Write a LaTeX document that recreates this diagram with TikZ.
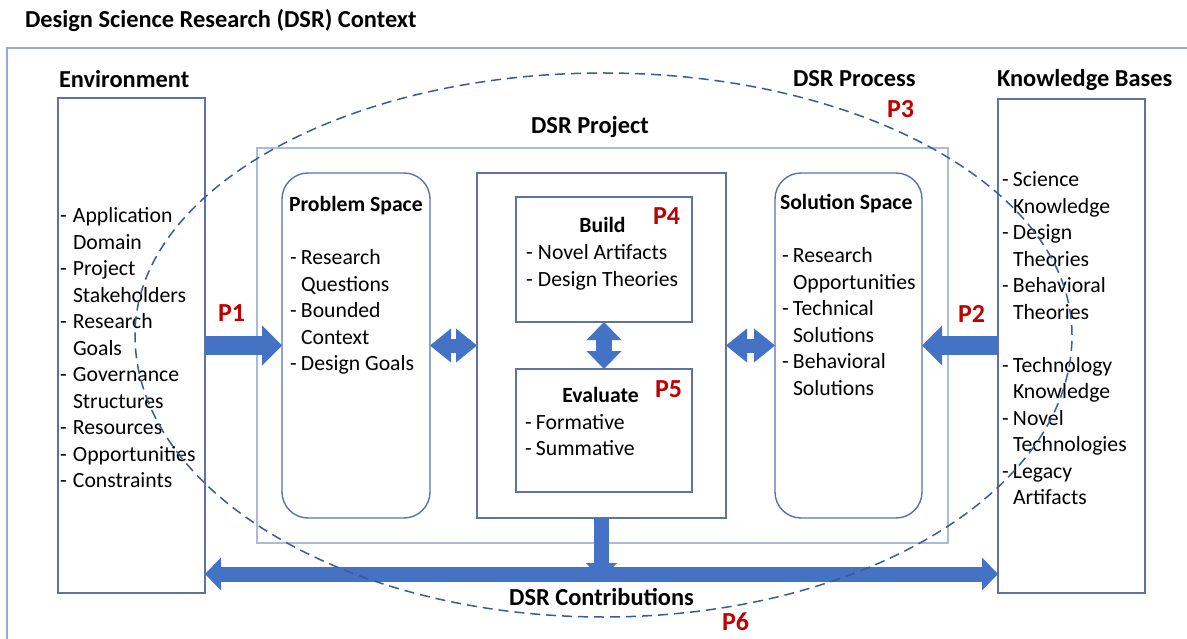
\documentclass[tikz,border=0pt]{standalone}
\usepackage{fontspec}
\setmainfont{Carlito}
\usetikzlibrary{arrows.meta,calc}
\definecolor{ctxline}{RGB}{150,170,205}
\definecolor{boxline}{RGB}{95,115,160}
\definecolor{projline}{RGB}{170,186,215}
\definecolor{roundline}{RGB}{85,115,175}
\definecolor{arrowblue}{RGB}{68,114,196}
\definecolor{dashblue}{RGB}{55,90,160}
\definecolor{pred}{RGB}{192,0,0}
\newcommand\bodyfont{\fontsize{21.7}{26.5}\selectfont}
\newcommand\headfont{\fontsize{24.4}{29}\selectfont\bfseries}
\newcommand\subfont{\fontsize{21.7}{26.5}\selectfont\bfseries}
\newcommand\pfont{\fontsize{26}{30}\selectfont\bfseries}
\newcommand\dashitem[2][11pt]{\makebox[#1][l]{-}#2}
\newcommand\contline[2][11pt]{\hspace*{#1}#2}
\newcommand\itemtab[1]{\begin{tabular}[t]{@{}l@{}}#1\end{tabular}}
\begin{document}
\begin{tikzpicture}[x=1pt,y=-1pt,
  rbox/.style={draw=boxline,line width=1.4pt,inner sep=0pt,outer sep=0pt,anchor=north west},
  ctxbox/.style={draw=ctxline,line width=2pt,inner sep=0pt,outer sep=0pt,anchor=north west},
  projbox/.style={draw=projline,line width=2pt,inner sep=0pt,outer sep=0pt,anchor=north west},
  spacebox/.style={draw=roundline,line width=1.4pt,rounded corners=26pt,inner sep=0pt,outer sep=0pt,anchor=north west},
  txt/.style={inner sep=0pt,outer sep=0pt,anchor=base west},
  head/.style={txt,font=\headfont},
  sub/.style={txt,font=\subfont},
  body/.style={txt,font=\bodyfont},
  plabel/.style={txt,font=\pfont,text=pred},
  blk/.style={arrowblue},
]
\useasboundingbox (0,0) rectangle (1187,639);
% outer context frame
\node[ctxbox,minimum width=1200pt,minimum height=620pt] (ctx) at (7,48) {};
% boxes
\node[rbox,minimum width=147pt,minimum height=495pt] (env) at (58,98) {};
\node[rbox,minimum width=147pt,minimum height=494pt] (kb) at (998,99) {};
\node[projbox,minimum width=691pt,minimum height=395pt] (proj) at (257,148) {};
\node[spacebox,minimum width=148pt,minimum height=345pt] (prob) at (282,173) {};
\node[rbox,minimum width=249pt,minimum height=345pt] (core) at (477,173) {};
\node[spacebox,minimum width=147pt,minimum height=345pt] (sol) at (775,173) {};
\node[rbox,minimum width=176pt,minimum height=125pt] (build) at (516,197) {};
\node[rbox,minimum width=176pt,minimum height=123pt] (eval) at (516,369) {};
% titles
\node[head] (title) at (25,28) {Design Science Research (DSR) Context};
\node[head] (envlbl) at (59,88) {Environment};
\node[head] (proclbl) at (793,87) {DSR Process};
\node[head] (kblbl) at (997,87) {Knowledge Bases};
\node[head,anchor=base] (projlbl) at (590,134) {DSR Project};
\node[head,anchor=base] (contrib) at (601.5,605) {DSR Contributions};
% lists
\node[body] (envlist) at (60,223) {\itemtab{\dashitem[13pt]{Application}\\ \contline[13pt]{Domain}\\ \dashitem[13pt]{Project}\\ \contline[13pt]{Stakeholders}\\ \dashitem[13pt]{Research}\\ \contline[13pt]{Goals}\\ \dashitem[13pt]{Governance}\\ \contline[13pt]{Structures}\\ \dashitem[13pt]{Resources}\\ \dashitem[13pt]{Opportunities}\\ \dashitem[13pt]{Constraints}}};
\node[body] (kblist) at (1002,187) {\itemtab{\dashitem{Science}\\ \contline{Knowledge}\\ \dashitem{Design}\\ \contline{Theories}\\ \dashitem{Behavioral}\\ \contline{Theories}\\ \mbox{}\\ \dashitem{Technology}\\ \contline{Knowledge}\\ \dashitem{Novel}\\ \contline{Technologies}\\ \dashitem{Legacy}\\ \contline{Artifacts}}};
\node[sub] (probttl) at (289,212) {Problem Space};
\node[body] (problist) at (290,265) {\itemtab{\dashitem{Research}\\ \contline{Questions}\\ \dashitem{Bounded}\\ \contline{Context}\\ \dashitem{Design Goals}}};
\node[sub] (solttl) at (780,210) {Solution Space};
\node[body] (sollist) at (782,263) {\itemtab{\dashitem{Research}\\ \contline{Opportunities}\\ \dashitem{Technical}\\ \contline{Solutions}\\ \dashitem{Behavioral}\\ \contline{Solutions}}};
\node[sub,anchor=base] (buildttl) at (602.5,233) {Build};
\node[body] (buildlist) at (526,260) {\itemtab{\dashitem[12pt]{Novel Artifacts}\\ \dashitem[12pt]{Design Theories}}};
\node[sub,anchor=base] (evalttl) at (600.5,402) {Evaluate};
\node[body] (evallist) at (525,429) {\itemtab{\dashitem{Formative}\\ \dashitem{Summative}}};
% P labels
\node[plabel] (p1) at (218,322) {P1};
\node[plabel] (p2) at (958,323) {P2};
\node[plabel] (p3) at (887,118) {P3};
\node[plabel] (p4) at (653,225) {P4};
\node[plabel] (p5) at (655,397) {P5};
\node[plabel] (p6) at (722,630) {P6};
% block arrows
\coordinate (bar) at (602,574);
\draw[blk,line width=19pt,-{Triangle[length=20pt,width=40pt,line width=0pt]}] (env.east |- prob.west) -- (prob.west);
\draw[blk,line width=19pt,-{Triangle[length=20pt,width=40pt,line width=0pt]}] (kb.west |- sol.east) -- (sol.east);
\draw[blk,line width=14pt,{Triangle[length=21pt,width=34pt,line width=0pt]}-{Triangle[length=21pt,width=34pt,line width=0pt]}] (prob.east) -- (core.west);
\draw[blk,line width=14pt,{Triangle[length=21pt,width=34pt,line width=0pt]}-{Triangle[length=21pt,width=34pt,line width=0pt]}] (core.east) -- (sol.west);
\draw[blk,line width=16pt,{Triangle[length=18pt,width=35pt,line width=0pt]}-{Triangle[length=18pt,width=35pt,line width=0pt]}] (build.south) -- (eval.north);
\draw[blk,line width=15pt,{Triangle[length=16pt,width=33pt,line width=0pt]}-{Triangle[length=16pt,width=33pt,line width=0pt]}] (env.east |- bar) -- (kb.west |- bar);
\draw[blk,line width=15pt,-{Triangle[length=17pt,width=31pt,line width=0pt]}] (core.south) -- ($(core.south |- bar)+(0,6)$);
% DSR process ellipse
\draw[dashblue,line width=1.5pt,dash pattern=on 10pt off 6pt] (1072,335) arc[start angle=0,end angle=-180,x radius=468.5,y radius=262] arc[start angle=180,end angle=0,x radius=468.5,y radius=282];
\end{tikzpicture}
\end{document}
